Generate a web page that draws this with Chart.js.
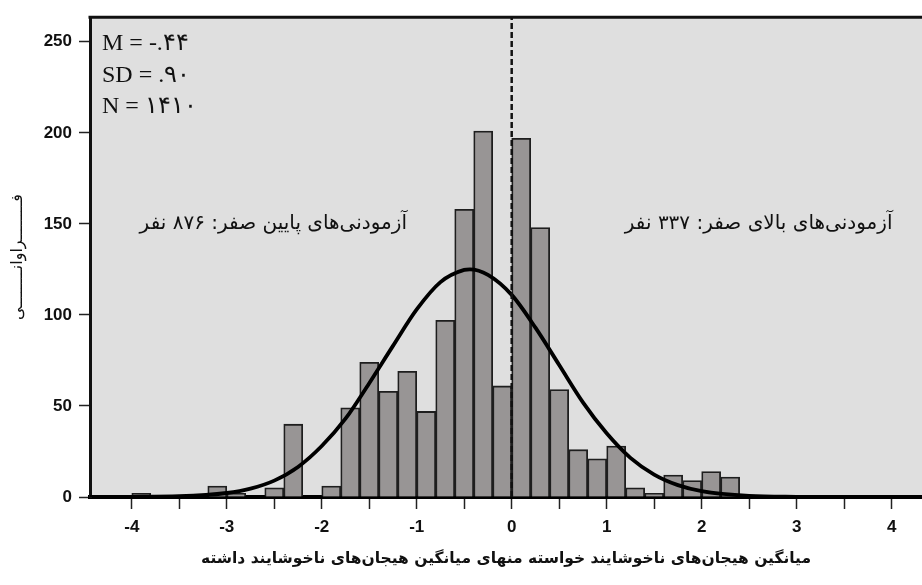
<!DOCTYPE html>
<html>
<head>
<meta charset="utf-8">
<script src="https://cdn.jsdelivr.net/npm/chart.js@4.4.1/dist/chart.umd.min.js"></script>
<style>
  html, body { margin: 0; padding: 0; background: #fff; }
  #wrap { width: 922px; height: 585px; }
</style>
</head>
<body>
<div id="wrap"><canvas id="histChart"></canvas></div>
<script>
// bin midpoints (bin width .2) and counts
const binMid = [-3.9, -3.7, -3.5, -3.3, -3.1, -2.9, -2.7, -2.5, -2.3, -2.1, -1.9, -1.7, -1.5, -1.3, -1.1, -0.9,
                -0.7, -0.5, -0.3, -0.1, 0.1, 0.3, 0.5, 0.7, 0.9, 1.1, 1.3, 1.5, 1.7, 1.9, 2.1, 2.3];
const counts = [2, 0, 0, 0, 6, 2, 0, 5, 40, 0, 6, 49, 74, 58, 69, 47,
                97, 158, 201, 61, 197, 148, 59, 26, 21, 28, 5, 2, 12, 9, 14, 11];

// normal curve, points
const curveX = [-4.44, -4, -3.5, -3, -2.75, -2.5, -2.25, -2, -1.75, -1.5, -1.25, -1, -0.75, -0.5, -0.44,
                -0.25, 0, 0.25, 0.5, 0.75, 1, 1.25, 1.5, 1.75, 2, 2.5, 3, 3.5, 4.32];
const curveY = [0, 0.1, 0.4, 2.2, 4.6, 9, 16.5, 28, 43, 62.5, 83, 103, 118, 124.7, 125,
                122, 111, 93, 72.5, 52, 35, 21.5, 12.3, 6.5, 3.2, 0.6, 0.1, 0, 0];

const xTickLabels = ['-4', '-3', '-2', '-1', '0', '1', '2', '3', '4'];
const yTicks = [0, 50, 100, 150, 200, 250];

const stats = ['M = -.۴۴', 'SD = .۹۰', 'N = ۱۴۱۰'];
const belowText = 'آزمودنی‌های پایین صفر: ۸۷۶ نفر';
const aboveText = 'آزمودنی‌های بالای صفر: ۳۳۷ نفر';
const xTitle = 'میانگین هیجان‌های ناخوشایند خواسته منهای میانگین هیجان‌های ناخوشایند داشته';
const yTitle = 'فــــــــراوانــــــــی';

const plotBg = {
    id: 'plotBg',
    beforeDraw(chart) {
        const { ctx, chartArea: a } = chart;
        ctx.save();
        ctx.fillStyle = '#dfdfdf';
        ctx.fillRect(a.left, a.top, a.right - a.left, a.bottom - a.top);
        ctx.restore();
    },
    afterDraw(chart) {
        const { ctx, chartArea: a, scales } = chart;
        ctx.save();
        // top frame line
        ctx.strokeStyle = '#111';
        ctx.lineWidth = 3;
        ctx.beginPath();
        ctx.moveTo(a.left - 1.5, a.top);
        ctx.lineTo(a.right, a.top);
        ctx.stroke();

        ctx.fillStyle = '#111';
        ctx.textBaseline = 'middle';
        ctx.font = '24px "Liberation Serif", "DejaVu Serif", serif';
        ctx.textAlign = 'left';
        stats.forEach((s, i) => ctx.fillText(s, a.left + 12, 44 + i * 31.5));

        ctx.font = '20px "DejaVu Sans", serif';
        ctx.textAlign = 'center';
        ctx.direction = 'rtl';
        ctx.fillText(belowText, scales.x.getPixelForValue(-2.51), scales.y.getPixelForValue(150));
        ctx.fillText(aboveText, scales.x.getPixelForValue(2.6), scales.y.getPixelForValue(150));
        ctx.restore();
    }
};

const ctx = document.getElementById('histChart').getContext('2d');
const histChart = new Chart(ctx, {
    type: 'bar',
    data: {
        datasets: [
            {
                type: 'line',
                data: [{ x: 0, y: 0 }, { x: 0, y: 263.5 }],
                borderColor: '#111',
                borderWidth: 2.5,
                borderDash: [6, 3],
                pointRadius: 0
            },
            {
                type: 'line',
                data: curveX.map((x, i) => ({ x: x, y: curveY[i] })),
                borderColor: '#000',
                borderWidth: 3.8,
                cubicInterpolationMode: 'monotone',
                pointRadius: 0
            },
            {
                type: 'bar',
                data: binMid.map((x, i) => ({ x: x, y: counts[i] })),
                backgroundColor: '#989595',
                borderColor: '#1e1e1e',
                borderWidth: 1.8,
                borderSkipped: 'bottom',
                barPercentage: 1,
                categoryPercentage: 1
            }
        ]
    },
    options: {
        responsive: true,
        maintainAspectRatio: false,
        animation: false,
        layout: { padding: { top: 16, left: 0, right: 0, bottom: 0 } },
        plugins: {
            legend: { display: false },
            tooltip: { enabled: false }
        },
        scales: {
            x: {
                type: 'linear',
                offset: false,
                min: -4.44,
                max: 4.32,
                afterFit: (s) => { s.height = 88; },
                border: { display: true, color: '#000', width: 4 },
                grid: { drawOnChartArea: false, offset: false, tickLength: 12, tickColor: '#222', tickWidth: 1.5 },
                ticks: {
                    stepSize: 0.5,
                    includeBounds: false,
                    autoSkip: false,
                    maxRotation: 0,
                    padding: 8,
                    color: '#111',
                    font: { family: '"Liberation Sans", Arial, sans-serif', size: 17, weight: 'bold' },
                    callback: (v) => Number.isInteger(v) ? xTickLabels[v + 4] : ''
                },
                title: {
                    display: true,
                    text: xTitle,
                    color: '#111',
                    font: { family: '"DejaVu Sans", serif', size: 15.5, weight: 'bold' },
                    padding: { top: 18, bottom: 17 }
                }
            },
            y: {
                min: 0,
                max: 263.5,
                afterFit: (s) => { s.width = 90; },
                border: { display: true, color: '#111', width: 3 },
                grid: { drawOnChartArea: false, tickLength: 11, tickColor: '#222', tickWidth: 1.5 },
                afterBuildTicks: (s) => { s.ticks = yTicks.map(v => ({ value: v })); },
                ticks: {
                    padding: 7,
                    color: '#111',
                    font: { family: '"Liberation Sans", Arial, sans-serif', size: 17, weight: 'bold' }
                },
                title: {
                    display: true,
                    text: yTitle,
                    color: '#111',
                    font: { family: '"DejaVu Sans", serif', size: 16 },
                    padding: { top: 8, bottom: 0 }
                }
            }
        }
    },
    plugins: [plotBg]
});
</script>
</body>
</html>
